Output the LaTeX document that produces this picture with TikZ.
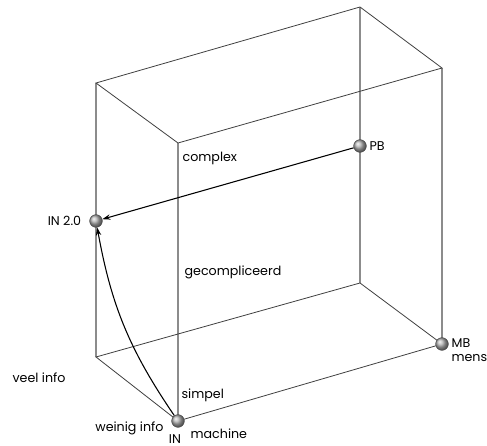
\documentclass[tikz,border=0pt]{standalone}
\usepackage{fontspec}
\setmainfont{Poppins}
\usepackage{tikz}
\usetikzlibrary{arrows.meta,positioning}

\tikzset{
  ribbe/.style={draw=black!75,line width=0.6pt},
  staand/.style={draw=black!45,line width=0.8pt},
  bol/.style={circle,inner sep=0pt,minimum size=9.5pt,draw=black!70,line width=0.4pt,shading=ball,ball color=black!30},
  pijl/.style={-{Stealth[length=6pt,width=4pt]},line width=0.8pt},
  lbl/.style={font=\fontsize{9.5}{11}\selectfont,inner sep=1pt}
}

\begin{document}
\begin{tikzpicture}[x=0.75pt,y=-0.75pt]
\useasboundingbox (0,0) rectangle (487,446);
% hoekpunten van de kubus
\coordinate (ov) at (178,421);
\coordinate (or) at (442,344);
\coordinate (ol) at (96,357);
\coordinate (oa) at (360,283);
\coordinate (bv) at (178,143);
\coordinate (br) at (442,68);
\coordinate (bl) at (96,83);
\coordinate (ba) at (360,7);
% staande ribben
\draw[staand] (ov)--(bv) (or)--(br) (ol)--(bl) (oa)--(ba);
% liggende ribben
\draw[ribbe] (ov)--(or)--(oa)--(ol)--cycle;
\draw[ribbe] (bv)--(br)--(ba)--(bl)--cycle;
% punten
\node[bol] (in) at (ov) {};
\node[bol] (mb) at (or) {};
\node[bol] (pb) at (360,146) {};
\node[bol] (in20) at (96,221) {};
% pijlen
\draw[pijl] (pb)--(in20);
\draw[pijl] (in) to[bend left=12] (in20);
% teksten
\node[lbl,right=1pt of pb] {PB};
\node[lbl,left=5pt of in20] {IN 2.0};
\node[lbl,anchor=west] at (181,158) {complex};
\node[lbl,anchor=west] at (183,272) {gecompliceerd};
\node[lbl,anchor=west] at (180,395) {simpel};
\node[lbl,anchor=west] at (11,378) {veel info};
\node[lbl,anchor=east] at (165,428) {weinig info};
\node[lbl] at (175,439) {IN};
\node[lbl,anchor=west] at (189,434) {machine};
\node[lbl,anchor=west] at (450,343) {MB};
\node[lbl,anchor=west] at (450,358) {mens};
\end{tikzpicture}
\end{document}
